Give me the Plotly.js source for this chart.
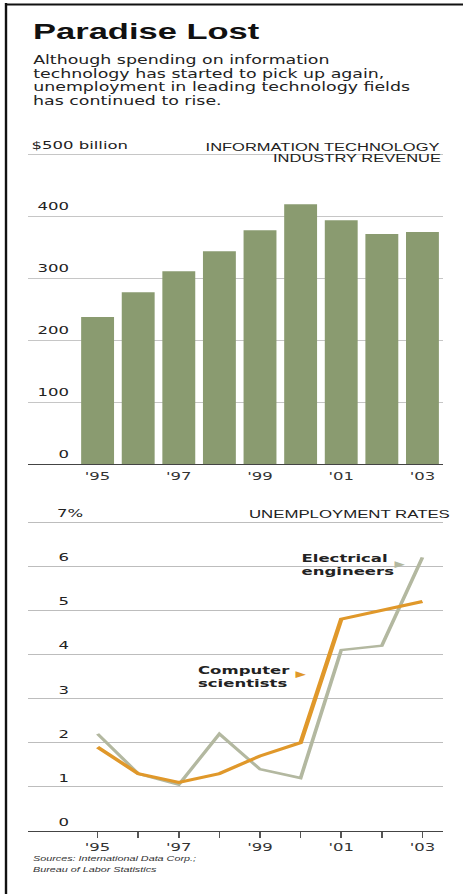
<!DOCTYPE html>
<html><head><meta charset="utf-8">
<script src="https://cdn.plot.ly/plotly-3.0.1.min.js"></script>
<style>
html,body{margin:0;padding:0;background:#fff;overflow:hidden;}
#wrap{width:308.667px;height:894px;transform:scaleX(1.5);transform-origin:0 0;}
</style></head><body>
<div id="wrap"><div id="chart"></div></div>
<script>
// ---- data ----
const years = [1995,1996,1997,1998,1999,2000,2001,2002,2003];
const revenue = [237,277,311,343,377,419,393,371,374];          // $ billion
const csRate = [1.9,1.3,1.1,1.3,1.7,2.0,4.8,5.0,5.2];            // computer scientists %
const eeRate = [2.2,1.3,1.05,2.2,1.4,1.2,4.1,4.2,6.2];           // electrical engineers %
const yearTickVals = [1995,1997,1999,2001,2003];
const yearTickText = ["'95","'97","'99","'01","'03"];
const revTicks = [0,100,200,300,400];
const revTopTick = 500;
const revTopLabel = "$500 billion";
const rateTicks = [0,1,2,3,4,5,6];
const rateTopTick = 7;
const rateTopLabel = "7%";
const titleText = "Paradise Lost";
const subtitleLines = ["Although spending on information","technology has started to pick up again,","unemployment in leading technology fields","has continued to rise."];
const revHeader = ["INFORMATION TECHNOLOGY","INDUSTRY REVENUE"];
const rateHeader = "UNEMPLOYMENT RATES";
const eeLabel = ["Electrical","engineers"];
const csLabel = ["Computer","scientists"];
const sources = ["Sources: International Data Corp.;","Bureau of Labor Statistics"];

// ---- geometry helpers (real pixels of the 463x894 picture) ----
const SX = 1.5, W = 463/SX, H = 894;
const fx = xr => xr/463;
const fy = yr => 1 - yr/H;

const barColor = '#8a9b70', csColor = '#e0982a', eeColor = '#b3b8a0';
const SANS = 'Liberation Sans, Arial, sans-serif';
const NUM = 'DejaVu Sans, sans-serif';
const ink = '#222';

const traces = [
  {type:'bar', x:years, y:revenue, xaxis:'x', yaxis:'y', marker:{color:barColor, line:{width:0}}, hoverinfo:'skip'},
  {type:'scatter', mode:'lines', x:years, y:eeRate, xaxis:'x2', yaxis:'y2', line:{color:eeColor, width:2.5}, hoverinfo:'skip'},
  {type:'scatter', mode:'lines', x:years, y:csRate, xaxis:'x2', yaxis:'y2', line:{color:csColor, width:3}, hoverinfo:'skip'}
];

const ann = [];
const A = o => ann.push(Object.assign({showarrow:false, xref:'paper', yref:'paper', xanchor:'left', yanchor:'middle'}, o));

A({x:fx(30), y:fy(31.5), text:'<b>'+titleText+'</b>', font:{family:SANS, size:23, color:'#111'}});
const subCenters = [60, 73.5, 87, 100.5];
subtitleLines.forEach((t,i)=>A({x:fx(30), y:fy(subCenters[i]), text:t, font:{family:NUM, size:11.6, color:ink}}));

// bar-chart header
A({x:fx(443), xanchor:'right', y:fy(146.5), text:revHeader[0], font:{family:SANS, size:11, color:ink}});
A({x:fx(443), xanchor:'right', y:fy(157.5), text:revHeader[1], font:{family:SANS, size:11, color:ink}});
// bar y labels
revTicks.forEach(v=>A({x:fx(72), xanchor:'right', yref:'y', y:v, yshift:9.5, text:String(v), font:{family:NUM, size:11, color:ink}}));
A({x:fx(28), yref:'y', y:revTopTick, yshift:8, text:revTopLabel, font:{family:NUM, size:11, color:ink}});

// line-chart header and labels
A({x:fx(452), xanchor:'right', y:fy(514), text:rateHeader, font:{family:SANS, size:11.2, color:ink}});
rateTicks.forEach(v=>A({x:fx(55), yref:'y2', y:v, yshift:8.5, text:String(v), font:{family:NUM, size:11, color:ink}}));
A({x:fx(54), yref:'y2', y:rateTopTick, yshift:8.5, text:rateTopLabel, font:{family:NUM, size:11, color:ink}});

const LBL = {family:NUM, size:11, color:ink, weight:'bold'};
A({x:fx(298), y:fy(558), text:'<b>'+eeLabel[0]+'</b>', font:LBL});
A({x:fx(298), y:fy(571.5), text:'<b>'+eeLabel[1]+'</b>', font:LBL});
A({x:fx(400), xanchor:'center', y:fy(563.5), text:'▶', font:{family:NUM, size:9, color:eeColor}});
A({x:fx(195), y:fy(670), text:'<b>'+csLabel[0]+'</b>', font:LBL});
A({x:fx(195), y:fy(683.5), text:'<b>'+csLabel[1]+'</b>', font:LBL});
A({x:fx(301), xanchor:'center', y:fy(674), text:'▶', font:{family:NUM, size:9, color:csColor}});

A({x:fx(30), y:fy(858), text:'<i>'+sources[0]+'</i>', font:{family:SANS, size:7.2, color:'#333'}});
A({x:fx(30), y:fy(869.5), text:'<i>'+sources[1]+'</i>', font:{family:SANS, size:7.2, color:'#333'}});

const shapes = [
  {type:'line', xref:'paper', yref:'paper', x0:fx(6), x1:fx(6), y0:fy(3), y1:fy(894), line:{color:'#111', width:1.6}},
  {type:'line', xref:'paper', yref:'paper', x0:fx(5), x1:1, y0:fy(4.5), y1:fy(4.5), line:{color:'#111', width:2}},
  // masks hiding gridlines behind the text blocks
  {type:'rect', layer:'between', xref:'paper', yref:'paper', x0:fx(196), x1:fx(446), y0:fy(163), y1:fy(139), fillcolor:'#fff', line:{width:0}},
  {type:'rect', layer:'between', xref:'paper', yref:'paper', x0:fx(285), x1:fx(406), y0:fy(582), y1:fy(550), fillcolor:'#fff', line:{width:0}}
];

const xr = [1993.287, 2003.518];
const axisFont = {family:NUM, size:11, color:'#333'};
const layout = {
  width:W, height:H, margin:{l:0,r:0,t:0,b:0},
  paper_bgcolor:'#fff', plot_bgcolor:'rgba(0,0,0,0)', showlegend:false, bargap:0.19,
  xaxis:{domain:[fx(28),fx(443)], range:xr, anchor:'y', tickvals:yearTickVals, ticktext:yearTickText,
         showgrid:false, zeroline:false, showline:true, linecolor:'#444', linewidth:1.3, ticks:'', tickfont:axisFont, ticklabelstandoff:2},
  yaxis:{domain:[fy(464),fy(147.8)], range:[0,510], anchor:'x', tickvals:revTicks.slice(1).concat([revTopTick]),
         showticklabels:false, showgrid:true, gridcolor:'#c6c6c6', gridwidth:1, zeroline:false, showline:false, ticks:''},
  xaxis2:{domain:[fx(28),fx(443)], range:xr, anchor:'y2', tickvals:years,
          ticktext:years.map(y=> y%2 ? "'"+String(y).slice(2) : ''),
          showgrid:false, zeroline:false, showline:true, linecolor:'#444', linewidth:1.3,
          ticks:'outside', ticklen:6, tickwidth:1, tickcolor:'#555', tickfont:axisFont},
  yaxis2:{domain:[fy(831),fy(513.2)], range:[0,7.2], anchor:'x2', tickvals:rateTicks.slice(1).concat([rateTopTick]),
          showticklabels:false, showgrid:true, gridcolor:'#bdbdbd', gridwidth:1, zeroline:false, showline:false, ticks:''},
  annotations:ann, shapes:shapes
};
Plotly.newPlot('chart', traces, layout, {staticPlot:true, displayModeBar:false});
</script>
</body></html>
